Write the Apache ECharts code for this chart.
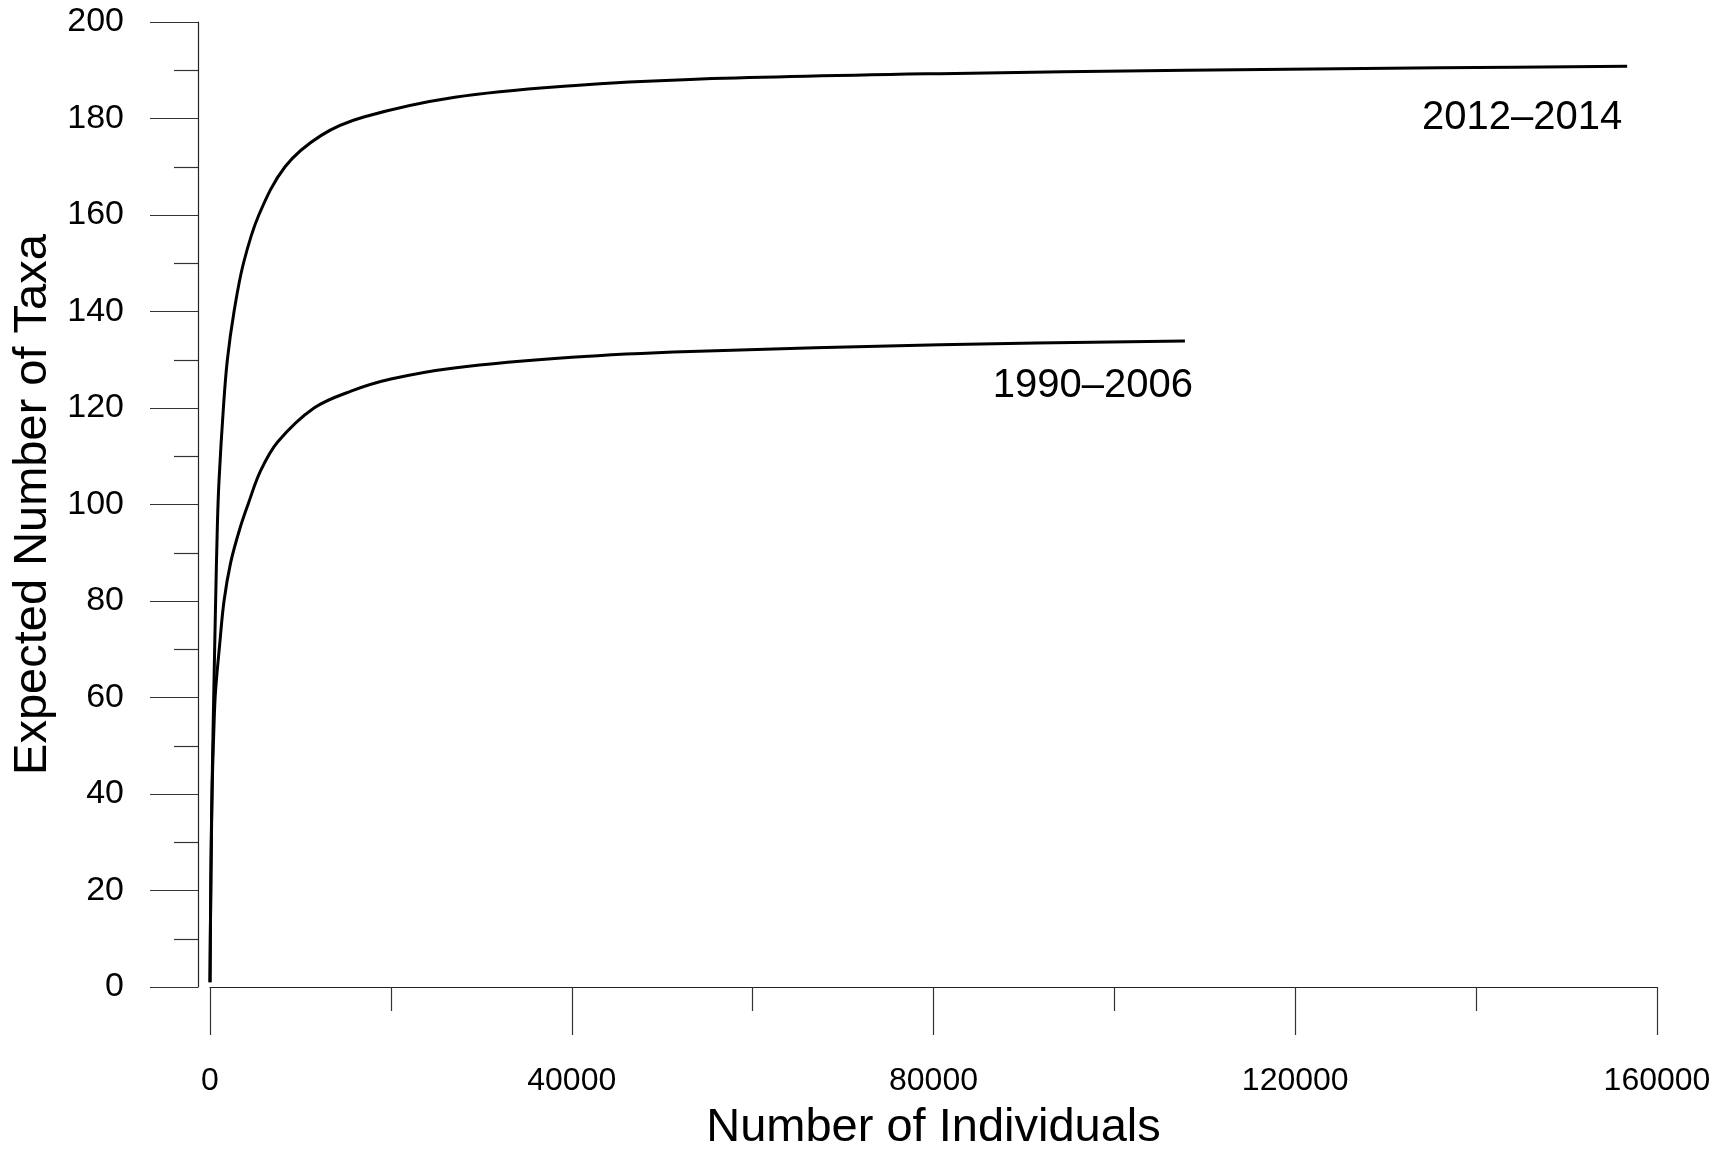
<!DOCTYPE html>
<html>
<head>
<meta charset="utf-8">
<title>Expected Number of Taxa</title>
<script src="https://cdn.jsdelivr.net/npm/echarts@6/dist/echarts.min.js"></script>
<style>
html, body { margin: 0; padding: 0; background: #fff; }
#main { width: 1735px; height: 1149px; }
</style>
</head>
<body>
<div id="main"></div>
<script>
// rarefaction curves: [individuals, taxa]
var seriesNames = ['2012–2014', '1990–2006'];
var recent = [
	[0, 1], [60, 15], [150, 32], [280, 47], [410, 60], [600, 78], [820, 96],
	[1000, 105], [1480, 120], [1920, 130], [2660, 140], [3700, 150], [5400, 160],
	[8300, 170], [12300, 176.5], [17000, 180.3], [27070, 184.4], [40000, 186.8],
	[53100, 188.1], [80700, 189.3], [108000, 190.0], [136000, 190.5], [156700, 190.85]
];
var older = [
	[0, 1], [60, 15], [150, 30], [260, 43], [420, 53], [600, 61], [1070, 71],
	[1550, 80], [2290, 88], [3300, 95], [4200, 100], [5600, 107], [7500, 113],
	[11500, 120], [15600, 123.5], [20000, 126], [27000, 128.3], [40000, 130.5],
	[53100, 131.7], [80700, 133.1], [107800, 133.9]
];
var xMax = 160000, xStep = 40000;
var yMax = 200, yStep = 20;

var font = '"Liberation Sans", Arial, Helvetica, sans-serif';

// put the series name under the last point of the curve
function withEndLabel(points, name, off) {
	var out = points.slice(0, points.length - 1);
	var last = points[points.length - 1];
	out.push({
		value: last,
		symbol: 'circle',
		symbolSize: 0,
		label: {
			show: true, formatter: name, position: 'bottom', align: 'right',
			offset: off, fontSize: 40, color: '#000', fontFamily: font
		}
	});
	return out;
}

var axisLine = { show: true, onZero: false, lineStyle: { color: '#222', width: 1.2 } };

var option = {
	animation: false,
	backgroundColor: '#fff',
	grid: { left: 210, right: 78, top: 22, bottom: 162, containLabel: false, outerBoundsMode: 'none' },
	xAxis: {
		type: 'value', min: 0, max: xMax, interval: xStep,
		name: 'Number of Individuals', nameLocation: 'middle', nameGap: 118,
		nameTextStyle: { fontSize: 47, color: '#000', fontFamily: font },
		axisLine: axisLine,
		axisTick: { show: true, length: 48, lineStyle: { color: '#333', width: 1.2 } },
		minorTick: { show: true, splitNumber: 2, length: 24, lineStyle: { color: '#333', width: 1.2 } },
		axisLabel: {
			margin: 78, fontSize: 32, color: '#000', fontFamily: font,
			formatter: function (v) { return String(v); }
		},
		splitLine: { show: false }
	},
	yAxis: {
		type: 'value', min: 0, max: yMax, interval: yStep, offset: 12,
		name: 'Expected Number of Taxa', nameLocation: 'middle', nameGap: 139, nameRotate: 90,
		nameTextStyle: { fontSize: 47, color: '#000', fontFamily: font },
		axisLine: axisLine,
		axisTick: { show: true, length: 48, lineStyle: { color: '#333', width: 1.2 } },
		minorTick: { show: true, splitNumber: 2, length: 24, lineStyle: { color: '#333', width: 1.2 } },
		axisLabel: { margin: 74, fontSize: 34, color: '#000', fontFamily: font },
		splitLine: { show: false }
	},
	series: [
		{
			name: seriesNames[0], type: 'line', symbol: 'none',
			smooth: 0.35, clip: false,
			lineStyle: { color: '#000', width: 3 },
			data: withEndLabel(recent, seriesNames[0], [-5, 27])
		},
		{
			name: seriesNames[1], type: 'line', symbol: 'none',
			smooth: 0.35, clip: false,
			lineStyle: { color: '#000', width: 3 },
			data: withEndLabel(older, seriesNames[1], [8, 20])
		}
	]
};

var myChart = echarts.init(document.getElementById('main'));
myChart.setOption(option);
</script>
</body>
</html>
